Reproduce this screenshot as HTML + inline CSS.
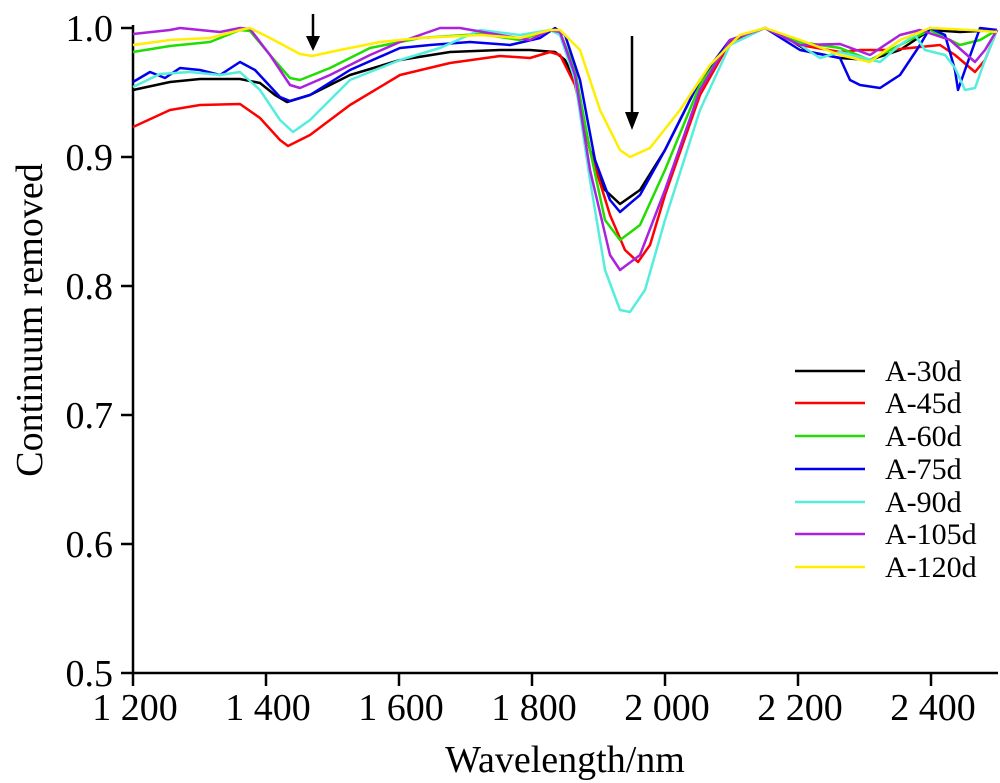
<!DOCTYPE html>
<html><head><meta charset="utf-8"><style>body{margin:0;background:#fff}svg{display:block}text{font-family:"Liberation Serif",serif;fill:#000}</style></head><body>
<svg width="1000" height="783" viewBox="0 0 1000 783" xmlns="http://www.w3.org/2000/svg">
<g stroke="#000" stroke-width="2.5" fill="none">
<line x1="133" y1="25" x2="133" y2="673"/><line x1="133" y1="673" x2="998" y2="673"/>
<line x1="121" y1="28" x2="133" y2="28"/><line x1="121" y1="157" x2="133" y2="157"/><line x1="121" y1="286" x2="133" y2="286"/><line x1="121" y1="415" x2="133" y2="415"/><line x1="121" y1="544" x2="133" y2="544"/><line x1="121" y1="673" x2="133" y2="673"/>
<line x1="133" y1="673" x2="133" y2="686"/><line x1="266" y1="673" x2="266" y2="686"/><line x1="399" y1="673" x2="399" y2="686"/><line x1="532" y1="673" x2="532" y2="686"/><line x1="665" y1="673" x2="665" y2="686"/><line x1="798" y1="673" x2="798" y2="686"/><line x1="931" y1="673" x2="931" y2="686"/>
</g>
<g font-size="38" text-anchor="end">
<text x="113" y="41">1.0</text><text x="113" y="170">0.9</text><text x="113" y="299">0.8</text><text x="113" y="428">0.7</text><text x="113" y="557">0.6</text><text x="113" y="686">0.5</text>
</g>
<g font-size="38" text-anchor="middle">
<text x="135" y="720">1 200</text><text x="268" y="720">1 400</text><text x="401" y="720">1 600</text><text x="534" y="720">1 800</text><text x="667" y="720">2 000</text><text x="800" y="720">2 200</text><text x="933" y="720">2 400</text>
<text x="565" y="772">Wavelength/nm</text>
<text transform="translate(42,320) rotate(-90)">Continuum removed</text>
</g>
<g fill="none" stroke-width="2.5" stroke-linejoin="round">
<polyline stroke="#000" points="133,90 170,82 200,79 240,79 260,83 275,95 287,102 310,95 350,75 400,60 450,52 500,50 530,50 555,52 565,60 575,80 590,150 605,190 620,204 640,190 665,150 700,80 730,40 765,28 790,40 810,52 840,58 870,60 900,50 930,30 960,32 997,30"/>
<polyline stroke="#ff0000" points="133,127 170,110 200,105 240,104 260,118 280,140 288,146 310,135 350,105 400,75 450,63 500,56 530,58 550,52 560,55 575,85 590,150 610,215 625,250 638,262 650,245 665,195 700,95 730,42 765,28 800,45 840,52 860,50 890,50 940,45 955,55 975,72 985,60 997,30"/>
<polyline stroke="#22dd00" points="133,52 170,46 210,42 240,30 250,31 270,55 290,78 300,80 330,68 370,48 420,38 480,34 520,40 550,30 560,32 575,70 590,150 605,220 620,240 640,225 665,170 700,85 730,40 765,28 800,42 840,48 870,60 900,45 930,30 960,45 980,40 997,30"/>
<polyline stroke="#0000ee" points="133,82 150,72 165,78 180,68 200,70 220,75 240,62 255,70 280,97 290,101 310,95 350,70 400,48 430,45 470,42 510,45 540,38 555,28 565,35 580,80 595,160 610,200 620,212 640,195 665,150 700,80 730,40 765,28 800,50 840,58 850,80 860,85 880,88 900,75 920,45 930,28 945,35 955,70 958,90 965,70 980,28 997,30"/>
<polyline stroke="#55eedd" points="133,87 160,74 190,72 220,75 240,72 260,90 280,120 293,132 310,120 350,80 400,60 440,48 480,30 520,35 550,30 560,35 575,80 590,180 605,270 620,310 630,312 645,290 665,220 700,110 730,45 765,28 800,45 820,58 840,52 880,62 900,45 915,35 925,50 945,55 955,68 965,90 975,88 985,60 997,30"/>
<polyline stroke="#aa22dd" points="133,34 170,30 180,28 200,30 220,32 240,28 250,29 270,55 290,85 300,88 330,75 370,55 400,42 440,28 460,28 500,35 530,40 550,30 560,32 575,75 590,170 610,255 620,270 640,255 665,190 700,90 730,40 765,28 800,45 840,44 870,55 900,35 920,30 950,40 975,62 985,50 997,30"/>
<polyline stroke="#ffee00" points="133,45 170,40 210,38 240,30 250,28 270,38 300,54 312,56 340,50 380,42 420,38 480,35 520,38 550,30 560,30 580,50 600,110 620,150 630,157 650,148 680,110 710,65 740,35 765,28 800,40 840,55 870,62 900,40 930,28 970,30 997,32"/>
</g>
<g stroke="#000" stroke-width="2.5"><line x1="313" y1="14" x2="313" y2="40"/><line x1="632" y1="36" x2="632" y2="118"/></g>
<polygon points="306,36 320,36 313,51" fill="#000"/><polygon points="625,112 639,112 632,130" fill="#000"/>
<g stroke-width="2.5">
<line x1="795" y1="371" x2="865" y2="371" stroke="#000"/><line x1="795" y1="403" x2="865" y2="403" stroke="#ff0000"/><line x1="795" y1="436" x2="865" y2="436" stroke="#22dd00"/><line x1="795" y1="469" x2="865" y2="469" stroke="#0000ee"/><line x1="795" y1="502" x2="865" y2="502" stroke="#55eedd"/><line x1="795" y1="534" x2="865" y2="534" stroke="#aa22dd"/><line x1="795" y1="567" x2="865" y2="567" stroke="#ffee00"/>
</g>
<g font-size="30">
<text x="885" y="381">A-30d</text><text x="885" y="413">A-45d</text><text x="885" y="446">A-60d</text><text x="885" y="479">A-75d</text><text x="885" y="512">A-90d</text><text x="885" y="544">A-105d</text><text x="885" y="577">A-120d</text>
</g>
</svg>
</body></html>
